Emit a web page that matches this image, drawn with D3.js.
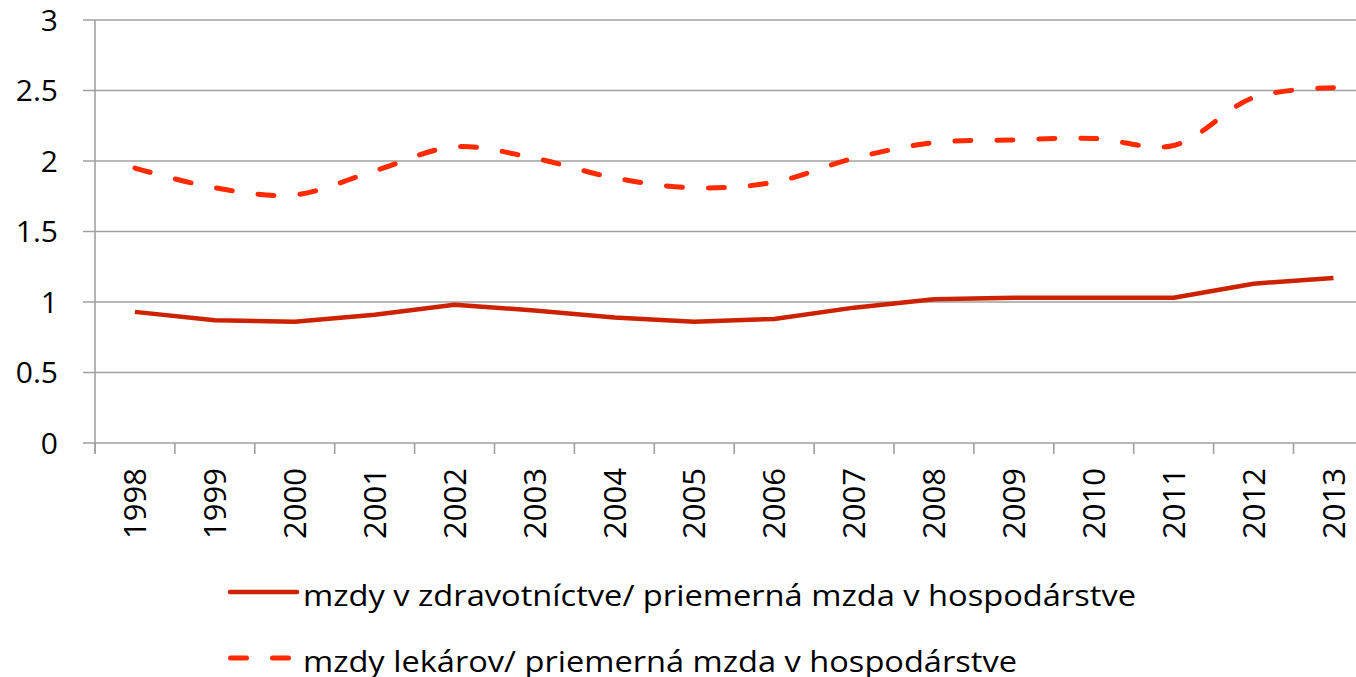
<!DOCTYPE html>
<html>
<head>
<meta charset="utf-8">
<script src="https://cdn.jsdelivr.net/npm/d3@7"></script>
<style>
  html, body { margin: 0; padding: 0; background: #fff; overflow: hidden; }
  svg { display: block; }
  text { font-family: "Open Sans", "Noto Sans", sans-serif; fill: #000; }
</style>
</head>
<body>
<svg id="chart" width="1356" height="677"></svg>
<script>
const years = ["1998","1999","2000","2001","2002","2003","2004","2005","2006","2007","2008","2009","2010","2011","2012","2013"];
const healthWages = [0.93,0.87,0.86,0.91,0.98,0.94,0.89,0.86,0.88,0.96,1.02,1.03,1.03,1.03,1.13,1.17];
const doctorWages = [1.95,1.81,1.76,1.93,2.10,2.02,1.88,1.81,1.85,2.02,2.13,2.15,2.16,2.11,2.45,2.52];
const yTicks = [0, 0.5, 1, 1.5, 2, 2.5, 3];
const yTickLabels = ["0","0.5","1","1.5","2","2.5","3"];
const seriesNames = ["mzdy v zdravotníctve/ priemerná mzda v hospodárstve", "mzdy lekárov/ priemerná mzda v hospodárstve"];

const svg = d3.select("#chart");
const plotLeft = 95, plotTop = 20, plotBottom = 443;
const bandW = 79.9;
const plotRight = plotLeft + bandW * years.length;

const x = d3.scaleBand().domain(years).range([plotLeft, plotRight]).padding(0);
const y = d3.scaleLinear().domain([0, 3]).range([plotBottom, plotTop]);

const gridColor = "#a0a0a0";

// gridlines
svg.append("g").selectAll("line").data(yTicks).join("line")
  .attr("x1", plotLeft - 12).attr("x2", plotRight)
  .attr("y1", d => y(d)).attr("y2", d => y(d))
  .attr("stroke", gridColor).attr("stroke-width", 1.6);

// y axis line
svg.append("line").attr("x1", plotLeft).attr("x2", plotLeft).attr("y1", plotTop).attr("y2", plotBottom + 10)
  .attr("stroke", gridColor).attr("stroke-width", 1.6);

// x ticks
const xTickPos = d3.range(years.length + 1).map(i => plotLeft + i * bandW);
svg.append("g").selectAll("line").data(xTickPos).join("line")
  .attr("x1", d => d).attr("x2", d => d)
  .attr("y1", plotBottom).attr("y2", plotBottom + 11)
  .attr("stroke", gridColor).attr("stroke-width", 1.6);

// y tick labels
svg.append("g").selectAll("text").data(yTicks).join("text")
  .attr("x", 58).attr("y", d => y(d))
  .attr("dy", "0.36em")
  .attr("text-anchor", "end")
  .attr("font-size", 30)
  .text((d, i) => yTickLabels[i]);

// x labels rotated
svg.append("g").selectAll("text").data(years).join("text")
  .attr("transform", d => `translate(${x(d) + x.bandwidth() / 2},468) rotate(-90)`)
  .attr("text-anchor", "end")
  .attr("dy", "0.36em")
  .attr("font-size", 31)
  .text(d => d);

const cx = d => x(d) + x.bandwidth() / 2;

const solidLine = d3.line().x((d, i) => cx(years[i])).y(d => y(d));
const smoothLine = d3.line().x((d, i) => cx(years[i])).y(d => y(d)).curve(d3.curveCatmullRom.alpha(0.5));

svg.append("path").datum(healthWages)
  .attr("d", solidLine)
  .attr("fill", "none").attr("stroke", "#CC2200").attr("stroke-width", 4.5)
  .attr("stroke-linejoin", "round");

svg.append("path").datum(doctorWages)
  .attr("d", smoothLine)
  .attr("fill", "none").attr("stroke", "#FF2A00").attr("stroke-width", 5)
  .attr("stroke-linecap", "round")
  .attr("stroke-dasharray", "16 26");

// legend
const legend = svg.append("g");
legend.append("line").attr("x1", 230).attr("x2", 297).attr("y1", 592).attr("y2", 592)
  .attr("stroke", "#CC2200").attr("stroke-width", 4.5).attr("stroke-linecap", "round");
legend.append("text").attr("x", 303).attr("y", 606).attr("font-size", 29)
  .attr("textLength", 833).attr("lengthAdjust", "spacingAndGlyphs")
  .text(seriesNames[0]);
legend.append("line").attr("x1", 230.5).attr("x2", 297).attr("y1", 658).attr("y2", 658)
  .attr("stroke", "#FF2A00").attr("stroke-width", 5).attr("stroke-linecap", "round")
  .attr("stroke-dasharray", "16 26");
legend.append("text").attr("x", 303).attr("y", 672).attr("font-size", 29)
  .attr("textLength", 714).attr("lengthAdjust", "spacingAndGlyphs")
  .text(seriesNames[1]);
</script>
</body>
</html>
